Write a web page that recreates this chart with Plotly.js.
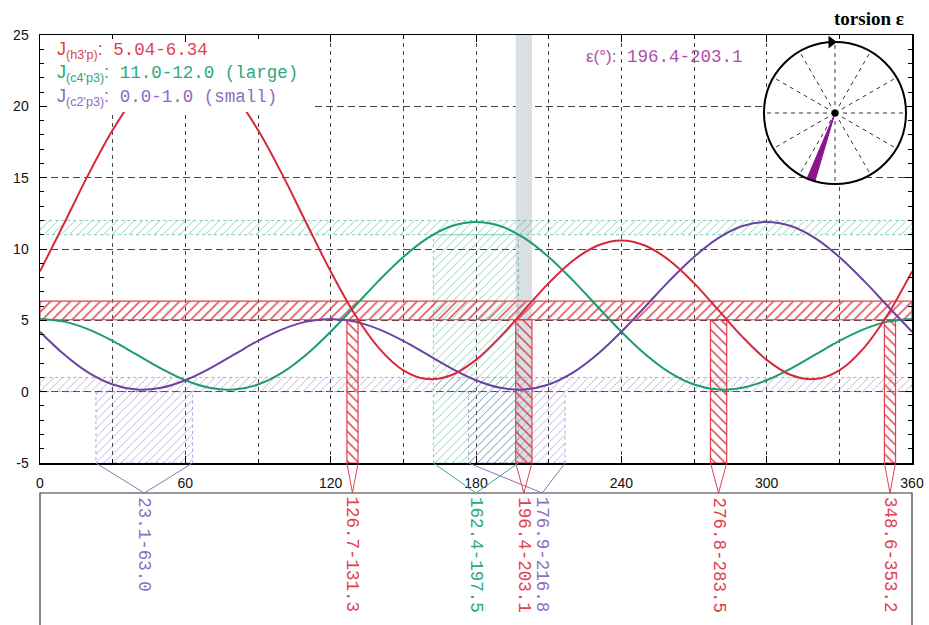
<!DOCTYPE html>
<html><head><meta charset="utf-8">
<script src="https://cdn.plot.ly/plotly-3.0.1.min.js"></script>
<style>html,body{margin:0;padding:0;background:#fff}#chart{width:929px;height:625px}</style>
</head><body><div id="chart"></div>
<script>
// ---------- data ----------
const torsionEps = [0,10,20,30,40,50,60,70,80,90,100,110,120,130,140,150,160,170,180,190,200,210,220,230,240,250,260,270,280,290,300,310,320,330,340,350,360];
const jH3pP  = [8.43,11.81,15.23,18.34,20.84,22.44,23.00,22.44,20.84,18.34,15.23,11.81,8.43,5.41,3.04,1.50,0.88,1.17,2.23,3.84,5.73,7.61,9.18,10.23,10.60,10.23,9.18,7.61,5.73,3.84,2.23,1.17,0.88,1.50,3.04,5.41,8.43];
const jC4pP3 = [5.10,4.91,4.37,3.56,2.59,1.62,0.80,0.27,0.15,0.50,1.33,2.60,4.20,5.99,7.80,9.44,10.76,11.61,11.90,11.61,10.76,9.44,7.80,5.99,4.20,2.60,1.33,0.50,0.15,0.27,0.80,1.62,2.59,3.56,4.37,4.91,5.10];
const jC2pP3 = [4.20,2.60,1.33,0.50,0.15,0.27,0.80,1.62,2.59,3.56,4.37,4.91,5.10,4.91,4.37,3.56,2.59,1.62,0.80,0.27,0.15,0.50,1.33,2.60,4.20,5.99,7.80,9.44,10.76,11.61,11.90,11.61,10.76,9.44,7.80,5.99,4.20];

const rangeH3pP  = [5.04, 6.34];
const rangeC4pP3 = [11.0, 12.0];
const rangeC2pP3 = [0.0, 1.0];
const epsH3pP  = [[126.7,131.3],[196.4,203.1],[276.8,283.5],[348.6,353.2]];
const epsC4pP3 = [[162.4,197.5]];
const epsC2pP3 = [[23.1,63.0],[176.9,216.8]];
const epsSelected = [196.4, 203.1];
const xTickVals = [0,60,120,180,240,300,360];
const xTickText = ['0','60','120','180','240','300','360'];
const yTickVals = [-5,0,5,10,15,20,25];
const yTickText = ['-5','0','5','10','15','20','25'];

// ---------- styles ----------
const RED = '#d7283a', GREEN = '#1a9c74', PURPLE = '#6c43a3';
const RED_T = '#e0404f', GREEN_T = '#2aa87f', PURPLE_T = '#8d6cc0';
const X0 = 0, X1 = 360, YMIN = -5, YMAX = 25;
const BOX_TOP = -30;           // label box top in the label-strip axis
const labelShift = {'176.9-216.8': 10.5};

const hatchRed   = (dir) => ({shape: dir, fgcolor: RED_T, bgcolor: 'rgba(255,255,255,0)', size: 7, solidity: 0.22});
const hatchLight = (c) => ({shape: '/', fgcolor: c, bgcolor: 'rgba(255,255,255,0)', size: 6, solidity: 0.15});

const traces = [];
traces.push({x:[epsSelected[0],epsSelected[1],epsSelected[1],epsSelected[0],epsSelected[0]], y:[YMIN,YMIN,YMAX,YMAX,YMIN],
  mode:'lines', fill:'toself', fillcolor:'#d9e0e5', line:{width:0}, hoverinfo:'skip'});

function hBand(r, pat, lineStyle){
  traces.push({x:[X0,X1,X1,X0,X0], y:[r[0],r[0],r[1],r[1],r[0]], mode:'lines', fill:'toself',
    fillpattern:pat, fillcolor:'rgba(255,255,255,0)', line:lineStyle, hoverinfo:'skip'});
}
function vBands(list, top, pat, lineStyle){
  list.forEach(([a,b]) => traces.push({x:[a,b,b,a,a], y:[YMIN,YMIN,top,top,YMIN], mode:'lines', fill:'toself',
    fillpattern:pat, fillcolor:'rgba(255,255,255,0)', line:lineStyle, hoverinfo:'skip'}));
}
const gLight = 'rgba(45,170,130,0.6)', pLight = 'rgba(130,100,190,0.55)';
hBand(rangeC4pP3, hatchLight(gLight), {color:'rgba(45,170,130,0.6)', width:1, dash:'dot'});
hBand(rangeC2pP3, hatchLight(pLight), {color:'rgba(130,100,190,0.6)', width:1, dash:'dot'});
vBands(epsC4pP3, rangeC4pP3[0], hatchLight(gLight), {color:'rgba(45,170,130,0.6)', width:1, dash:'dot'});
vBands(epsC2pP3, rangeC2pP3[0], hatchLight(pLight), {color:'rgba(130,100,190,0.6)', width:1, dash:'dot'});
hBand(rangeH3pP, hatchRed('/'), {color:RED_T, width:1.2});
vBands(epsH3pP, rangeH3pP[0], hatchRed('\\'), {color:RED_T, width:1.2});

[[jC4pP3,GREEN],[jC2pP3,PURPLE],[jH3pP,RED]].forEach(([ys,c]) => traces.push({
  x:torsionEps, y:ys, mode:'lines', line:{color:c, width:2, shape:'spline'}, hoverinfo:'skip'}));

const annotations = [];
function connectors(list, col, txtCol){
  list.forEach(([a,b]) => {
    const txt = a.toFixed(1) + '-' + b.toFixed(1);
    const apex = (a+b)/2 + (labelShift[txt] || 0);
    traces.push({x:[a,apex,b], y:[0,BOX_TOP,0], xaxis:'x2', yaxis:'y2', mode:'lines',
      line:{color:col, width:1}, hoverinfo:'skip', cliponaxis:false});
    annotations.push({xref:'x2', yref:'y2', x:apex, y:BOX_TOP-2, text:txt, textangle:90, showarrow:false,
      xanchor:'center', yanchor:'top', font:{family:'Liberation Mono, monospace', size:17.5, color:txtCol}});
  });
}
connectors(epsC2pP3, '#8a72b8', PURPLE_T);
connectors(epsH3pP, RED_T, RED_T);
connectors(epsC4pP3, '#3aaa86', GREEN_T);

const sel = epsSelected;
traces.push({type:'scatterpolar', r:[0,1,1,1,0], theta:[sel[0],sel[0],(sel[0]+sel[1])/2,sel[1],sel[0]],
  mode:'lines', fill:'toself', fillcolor:'#8e128e', line:{color:'#8e128e', width:1}, hoverinfo:'skip'});
traces.push({type:'scatterpolar', r:[0], theta:[0], mode:'markers', marker:{color:'#000', size:7}, hoverinfo:'skip'});
traces.push({type:'scatterpolar', r:[1], theta:[357], mode:'markers', cliponaxis:false,
  marker:{color:'#000', size:11, symbol:'triangle-right'}, hoverinfo:'skip'});

const PH = 590, PW = 872;
const px = (p) => (p-40)/PW, py = (p) => (625-p)/PH;
const mono = (s, size) => `<span style="font-family:'Liberation Mono',monospace;font-size:${size}px">${s}</span>`;
annotations.push(
  {xref:'paper', yref:'paper', x:px(55), y:py(50), xanchor:'left', yanchor:'middle', showarrow:false, align:'left',
   text:"J<sub>(h3'p)</sub>:" + mono(' 5.04-6.34',17.5), font:{family:'Liberation Sans, Arial', size:18, color:RED_T}},
  {xref:'paper', yref:'paper', x:px(55), y:py(74), xanchor:'left', yanchor:'middle', showarrow:false, align:'left',
   text:"J<sub>(c4'p3)</sub>:" + mono(' 11.0-12.0 (large)',17.5), font:{family:'Liberation Sans, Arial', size:18, color:GREEN_T}},
  {xref:'paper', yref:'paper', x:px(55), y:py(97), xanchor:'left', yanchor:'middle', showarrow:false, align:'left',
   text:"J<sub>(c2'p3)</sub>:" + mono(' 0.0-1.0 (small)',17.5), font:{family:'Liberation Sans, Arial', size:18, color:PURPLE_T}},
  {xref:'paper', yref:'paper', x:px(584), y:py(57), xanchor:'left', yanchor:'middle', showarrow:false,
   text:'ε(°):' + mono(' ' + epsSelected[0].toFixed(1) + '-' + epsSelected[1].toFixed(1),17.5), font:{family:'Liberation Sans, Arial', size:17, color:'#b24ca8'}},
  {xref:'paper', yref:'paper', x:px(906), y:py(19), xanchor:'right', yanchor:'middle', showarrow:false,
   text:'<b>torsion ε</b>', font:{family:'Liberation Serif, serif', size:19, color:'#000'}}
);

const layout = {
  width:929, height:625,
  margin:{l:40, r:17, t:35, b:0},
  paper_bgcolor:'#fff', plot_bgcolor:'#fff', showlegend:false,
  font:{family:'Liberation Sans, Arial, sans-serif', size:14, color:'#111'},
  xaxis:{domain:[0,1], range:[X0,X1], anchor:'y', tickmode:'array', tickvals:xTickVals, ticktext:xTickText,
    ticks:'inside', ticklen:7, tickcolor:'#000', showline:true, linecolor:'#000', linewidth:1.5, mirror:'ticks',
    showgrid:true, gridcolor:'#444', griddash:'4px,4px', gridwidth:1, zeroline:false, ticklabelstandoff:7,
    tickfont:{size:14, color:'#111'},
    minor:{dtick:30, tick0:0, ticks:'inside', ticklen:4, tickcolor:'#000', showgrid:true, gridcolor:'#444', griddash:'4px,4px', gridwidth:1}},
  yaxis:{domain:[162/590,1], range:[YMIN,YMAX], tickmode:'array', tickvals:yTickVals, ticktext:yTickText, ticks:'inside', ticklen:7, tickcolor:'#000',
    showline:true, linecolor:'#000', linewidth:1.5, mirror:'ticks', showgrid:true, gridcolor:'#444',
    griddash:'7px,4px', gridwidth:1, zeroline:false, ticklabelstandoff:7, tickfont:{size:14, color:'#111'},
    minor:{dtick:1, tick0:0, ticks:'inside', ticklen:4, tickcolor:'#000', showgrid:false}},
  xaxis2:{domain:[0,1], range:[X0,X1], anchor:'y2', visible:false},
  yaxis2:{domain:[0,162/590], range:[-162,0], anchor:'x2', visible:false},
  polar:{domain:{x:[px(764),px(906)], y:[py(184),py(42)]}, bgcolor:'#fff',
    angularaxis:{rotation:90, direction:'clockwise', tickmode:'linear', tick0:0, dtick:30, showticklabels:false, ticks:'',
      showline:true, linecolor:'#000', linewidth:2, showgrid:true, gridcolor:'#333', griddash:'4px,4px', gridwidth:1},
    radialaxis:{visible:false, range:[0,1]}},
  shapes:[
    {type:'rect', xref:'paper', yref:'paper', x0:px(47), x1:px(314), y0:py(112), y1:py(42), fillcolor:'#fff', line:{width:0}, layer:'above'},
    {type:'rect', xref:'paper', yref:'y2', x0:0, x1:1, y0:-200, y1:BOX_TOP, fillcolor:'rgba(0,0,0,0)', line:{color:'#333', width:1.2}, layer:'below'}
  ],
  annotations:annotations
};
Plotly.newPlot('chart', traces, layout, {staticPlot:true, displayModeBar:false});
</script></body></html>
